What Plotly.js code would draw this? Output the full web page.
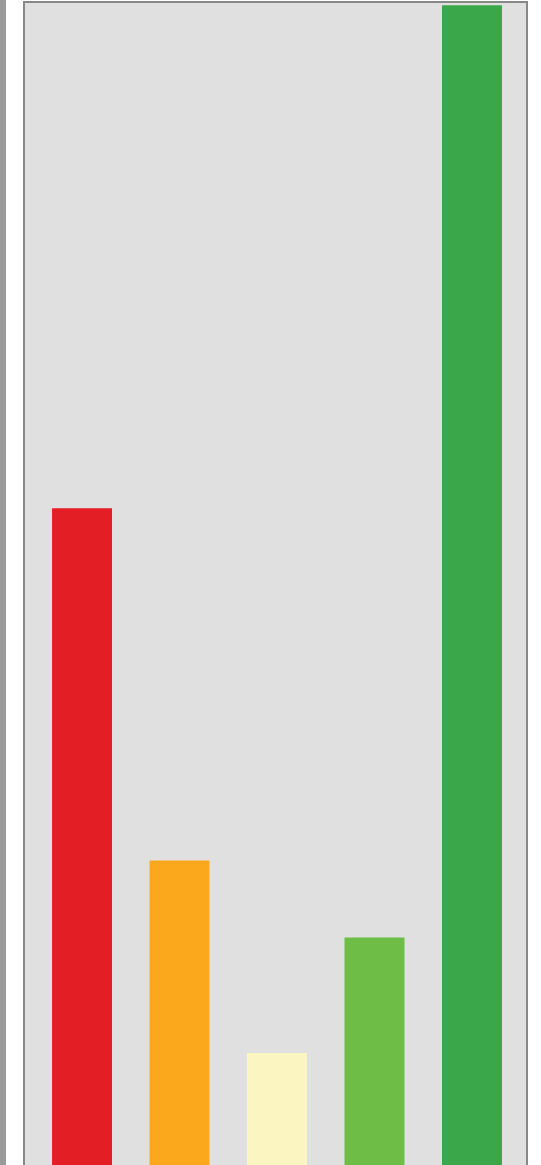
<!DOCTYPE html>
<html>
<head>
<meta charset="utf-8">
<script src="https://cdn.plot.ly/plotly-3.0.1.min.js"></script>
<style>
html,body{margin:0;padding:0;overflow:hidden;background:#fff;}
#chart{width:541px;height:1180px;}
</style>
</head>
<body>
<div id="chart"></div>
<script>
var categories = ["A", "B", "C", "D", "E"];
var values = [56.9, 26.7, 10.2, 20.1, 100];
var colors = ["#e31e25", "#fba81d", "#fbf6c1", "#6dbd47", "#3aa84a"];

var trace = {
  type: "bar",
  x: categories,
  y: values,
  width: 0.615,
  marker: {color: colors, line: {width: 0}},
  hoverinfo: "none"
};

var layout = {
  width: 541,
  height: 1180,
  margin: {l: 25, r: 15, t: 3, b: 8, pad: 0},
  paper_bgcolor: "#ffffff",
  plot_bgcolor: "#e0e0e0",
  showlegend: false,
  xaxis: {
    range: [-0.585, 4.554],
    showticklabels: false,
    ticks: "",
    showgrid: false,
    zeroline: false,
    showline: true,
    mirror: true,
    linecolor: "#888888",
    linewidth: 2
  },
  yaxis: {
    range: [0, 100.2],
    showticklabels: false,
    ticks: "",
    showgrid: false,
    zeroline: false,
    showline: true,
    mirror: true,
    linecolor: "#888888",
    linewidth: 2
  },
  shapes: [{
    type: "rect", xref: "paper", yref: "paper",
    x0: -25/501, x1: -19/501, y0: -0.01, y1: 1.003,
    fillcolor: "#9a9a9a", line: {width: 0}
  }]
};

Plotly.newPlot("chart", [trace], layout, {displayModeBar: false, staticPlot: true});
</script>
</body>
</html>
